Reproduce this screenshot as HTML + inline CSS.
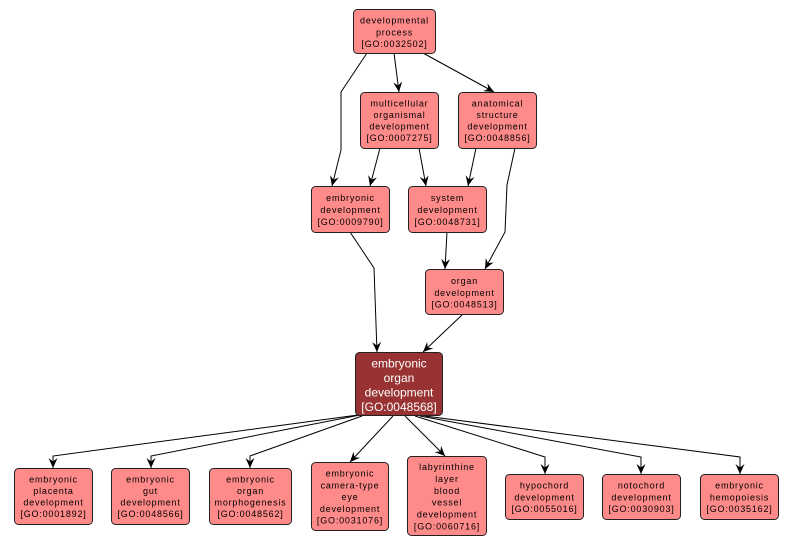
<!DOCTYPE html>
<html><head><meta charset="utf-8"><style>
html,body{margin:0;padding:0;background:#fff;}
svg{display:block;}
.n{fill:#ff8a8a;stroke:#222;stroke-width:1;}
.c{fill:#993333;stroke:#222;stroke-width:1;}
.t{font-family:"Liberation Sans",sans-serif;font-size:9px;letter-spacing:0.8px;fill:#000;text-anchor:middle;}
.tc{font-family:"Liberation Sans",sans-serif;font-size:12px;fill:#fff;text-anchor:middle;}
.e{fill:none;stroke:#000;stroke-width:1;marker-end:url(#a);}
</style></head><body>
<svg width="793" height="546" viewBox="0 0 793 546" xmlns="http://www.w3.org/2000/svg">
<defs>
<marker id="a" viewBox="0 0 10 10" refX="10" refY="5" markerWidth="10" markerHeight="10" markerUnits="userSpaceOnUse" orient="auto">
<path d="M0,0.5 L10,5 L0,9.5 L3.5,5 z" fill="#000"/>
</marker>
</defs>
<!-- edges -->
<path class="e" d="M367,53 L341,92 L341,150 L332,186"/>
<path class="e" d="M394,53 L399,92"/>
<path class="e" d="M423,53 L494,92"/>
<path class="e" d="M380,148 L370,186"/>
<path class="e" d="M419,148 L426,186"/>
<path class="e" d="M476,148 L468,186"/>
<path class="e" d="M515,148 L507,185 L505,232 L485,269"/>
<path class="e" d="M447,232 L445,269"/>
<path class="e" d="M350,232 L374,268 L377,352"/>
<path class="e" d="M463,314 L423,352"/>
<path class="e" d="M358,415 L53,456 L53,468"/>
<path class="e" d="M360,415 L151,456 L151,468"/>
<path class="e" d="M362,416 L250,456 L250,468"/>
<path class="e" d="M393,416 L350,462"/>
<path class="e" d="M405,416 L445,456"/>
<path class="e" d="M415,416 L545,457 L545,474"/>
<path class="e" d="M420,416 L641,457 L641,474"/>
<path class="e" d="M425,416 L740,457 L740,474"/>

<!-- nodes -->
<rect class="n" x="353.5" y="9.5" width="82" height="44" rx="4"/>
<text class="t"><tspan x="394.5" y="23.5">developmental</tspan><tspan x="394.5" y="35.3">process</tspan><tspan x="394.5" y="47.1">[GO:0032502]</tspan></text>

<rect class="n" x="360.5" y="92.5" width="78" height="56" rx="4"/>
<text class="t"><tspan x="399.5" y="106.5">multicellular</tspan><tspan x="399.5" y="118">organismal</tspan><tspan x="399.5" y="129.5">development</tspan><tspan x="399.5" y="141">[GO:0007275]</tspan></text>

<rect class="n" x="458.5" y="92.5" width="78" height="56" rx="4"/>
<text class="t"><tspan x="497.5" y="106.5">anatomical</tspan><tspan x="497.5" y="118">structure</tspan><tspan x="497.5" y="129.5">development</tspan><tspan x="497.5" y="141">[GO:0048856]</tspan></text>

<rect class="n" x="311.5" y="186.5" width="78" height="46" rx="4"/>
<text class="t"><tspan x="350.5" y="201">embryonic</tspan><tspan x="350.5" y="213">development</tspan><tspan x="350.5" y="225">[GO:0009790]</tspan></text>

<rect class="n" x="408.5" y="186.5" width="78" height="46" rx="4"/>
<text class="t"><tspan x="447.5" y="201">system</tspan><tspan x="447.5" y="213">development</tspan><tspan x="447.5" y="225">[GO:0048731]</tspan></text>

<rect class="n" x="425.5" y="269.5" width="78" height="45" rx="4"/>
<text class="t"><tspan x="464.5" y="284">organ</tspan><tspan x="464.5" y="295.8">development</tspan><tspan x="464.5" y="307.6">[GO:0048513]</tspan></text>

<rect class="c" x="355.5" y="352.5" width="87" height="63" rx="4"/>
<text class="tc"><tspan x="399" y="367.5">embryonic</tspan><tspan x="399" y="382">organ</tspan><tspan x="399" y="396.5">development</tspan><tspan x="399" y="411">[GO:0048568]</tspan></text>

<rect class="n" x="14.5" y="468.5" width="78" height="56" rx="4"/>
<text class="t"><tspan x="53.5" y="482.5">embryonic</tspan><tspan x="53.5" y="494">placenta</tspan><tspan x="53.5" y="505.5">development</tspan><tspan x="53.5" y="517">[GO:0001892]</tspan></text>

<rect class="n" x="111.5" y="468.5" width="78" height="56" rx="4"/>
<text class="t"><tspan x="150.5" y="482.5">embryonic</tspan><tspan x="150.5" y="494">gut</tspan><tspan x="150.5" y="505.5">development</tspan><tspan x="150.5" y="517">[GO:0048566]</tspan></text>

<rect class="n" x="209.5" y="468.5" width="82" height="56" rx="4"/>
<text class="t"><tspan x="250.5" y="482.5">embryonic</tspan><tspan x="250.5" y="494">organ</tspan><tspan x="250.5" y="505.5">morphogenesis</tspan><tspan x="250.5" y="517">[GO:0048562]</tspan></text>

<rect class="n" x="311.5" y="462.5" width="77" height="68" rx="4"/>
<text class="t"><tspan x="350" y="476.5">embryonic</tspan><tspan x="350" y="488.3">camera-type</tspan><tspan x="350" y="500.1">eye</tspan><tspan x="350" y="511.9">development</tspan><tspan x="350" y="523.7">[GO:0031076]</tspan></text>

<rect class="n" x="407.5" y="456.5" width="79" height="79" rx="4"/>
<text class="t"><tspan x="447" y="470">labyrinthine</tspan><tspan x="447" y="481.9">layer</tspan><tspan x="447" y="493.8">blood</tspan><tspan x="447" y="505.7">vessel</tspan><tspan x="447" y="517.6">development</tspan><tspan x="447" y="529.5">[GO:0060716]</tspan></text>

<rect class="n" x="505.5" y="474.5" width="78" height="45" rx="4"/>
<text class="t"><tspan x="544.5" y="488.5">hypochord</tspan><tspan x="544.5" y="500.3">development</tspan><tspan x="544.5" y="512.1">[GO:0055016]</tspan></text>

<rect class="n" x="602.5" y="474.5" width="78" height="45" rx="4"/>
<text class="t"><tspan x="641.5" y="488.5">notochord</tspan><tspan x="641.5" y="500.3">development</tspan><tspan x="641.5" y="512.1">[GO:0030903]</tspan></text>

<rect class="n" x="700.5" y="474.5" width="78" height="45" rx="4"/>
<text class="t"><tspan x="739.5" y="488.5">embryonic</tspan><tspan x="739.5" y="500.3">hemopoiesis</tspan><tspan x="739.5" y="512.1">[GO:0035162]</tspan></text>
</svg>
</body></html>
